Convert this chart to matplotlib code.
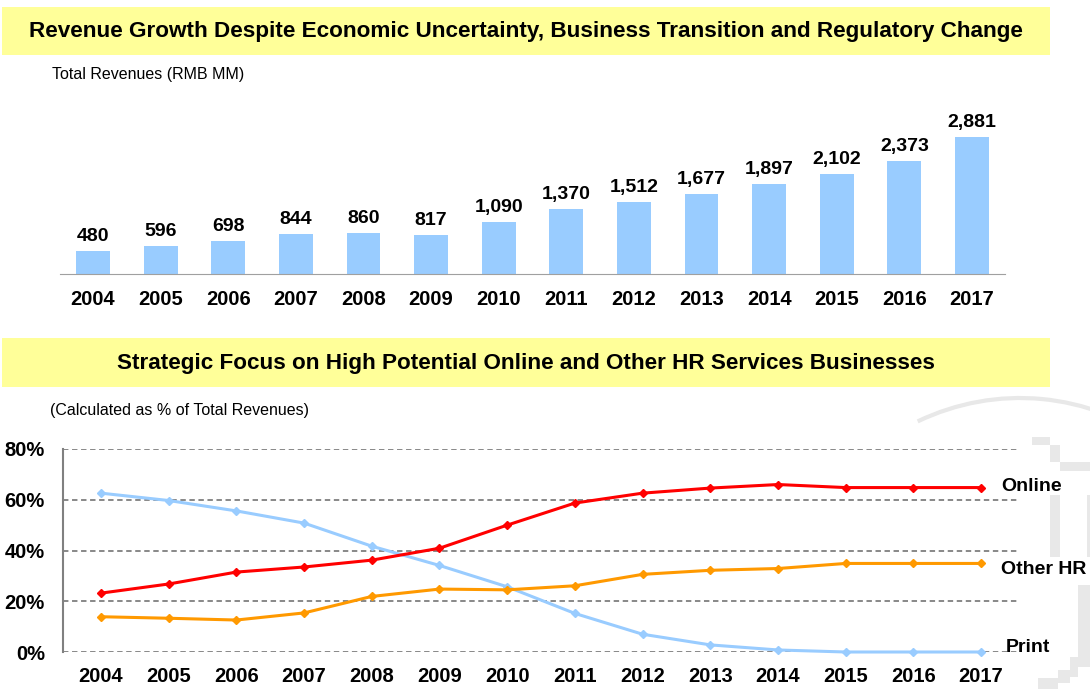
import numpy as np
import matplotlib
matplotlib.use('Agg')
import matplotlib.pyplot as plt
from matplotlib.patches import Rectangle, Arc

plt.rcParams['font.family'] = ['Liberation Sans', 'DejaVu Sans']

# ---------------- data ----------------
years = ['2004', '2005', '2006', '2007', '2008', '2009', '2010',
         '2011', '2012', '2013', '2014', '2015', '2016', '2017']
revenues = [480, 596, 698, 844, 860, 817, 1090, 1370, 1512, 1677, 1897, 2102, 2373, 2881]

online = [23.2, 26.8, 31.5, 33.5, 36.2, 40.9, 50.0, 58.7, 62.6, 64.6, 66.0, 64.8, 64.8, 64.8]
other_hr = [13.9, 13.3, 12.6, 15.4, 21.9, 24.8, 24.5, 26.1, 30.6, 32.2, 32.9, 34.9, 34.9, 34.9]
print_share = [62.6, 59.7, 55.6, 50.8, 41.7, 34.1, 25.7, 15.2, 7.0, 2.8, 0.8, 0.0, 0.0, 0.0]

W, H = 1090, 689
fig = plt.figure(figsize=(W / 100, H / 100), dpi=100)


def box(x0, y0, x1, y1):
    # pixel box (top-left origin) -> figure fraction rect
    return [x0 / W, 1 - y1 / H, (x1 - x0) / W, (y1 - y0) / H]


# faint watermark shapes on the right
bg = fig.add_axes([0, 0, 1, 1], zorder=-5)
bg.set_xlim(0, W)
bg.set_ylim(H, 0)
bg.axis('off')
wm = '#e8e8e8'
bg.add_patch(Arc((1020, 688), 520, 580, theta1=249, theta2=300, color=wm, lw=3))
for (x0, y0, x1, y1) in [(1032, 437, 1050, 445), (1050, 445, 1060, 462), (1060, 462, 1090, 471),
                         (1050, 495, 1060, 557), (1087, 495, 1090, 557),
                         (1078, 585, 1090, 667), (1070, 657, 1078, 677),
                         (1058, 670, 1070, 683), (1038, 678, 1058, 689)]:
    bg.add_patch(Rectangle((x0, y0), x1 - x0, y1 - y0, color=wm, lw=0))

# yellow banners
for (y0, y1, txt) in [(7, 55, 'Revenue Growth Despite Economic Uncertainty, Business Transition and Regulatory Change'),
                      (338, 387, 'Strategic Focus on High Potential Online and Other HR Services Businesses')]:
    bg.add_patch(Rectangle((2, y0), 1048, y1 - y0, color='#ffff99', lw=0))
    bg.text(526, (y0 + y1) / 2 + 1, txt, ha='center', va='center', fontsize=16.2, fontweight='bold')

bg.text(52, 75, 'Total Revenues (RMB MM)', ha='left', va='center', fontsize=11.5)
bg.text(50, 410, '(Calculated as % of Total Revenues)', ha='left', va='center', fontsize=11.5)

# ---------------- bar chart ----------------
ax1 = fig.add_axes(box(60, 100, 1005, 274))
x = np.arange(len(years))
ax1.bar(x, revenues, width=0.5, color='#99ccff', zorder=2)
for i, v in enumerate(revenues):
    ax1.text(i, v + 2881 * 0.042, f'{v:,}', ha='center', va='bottom',
             fontsize=14, fontweight='bold')
ax1.set_xlim(-0.488, 13.488)
ax1.set_ylim(0, 3659)
for s in ['top', 'right', 'left']:
    ax1.spines[s].set_visible(False)
ax1.spines['bottom'].set_color('#a0a0a0')
ax1.set_yticks([])
ax1.set_xticks(x)
ax1.set_xticklabels(years, fontsize=14.5, fontweight='bold')
ax1.tick_params(axis='x', length=0, pad=11.5)
ax1.patch.set_alpha(0)

# ---------------- line chart ----------------
ax2 = fig.add_axes(box(63, 449, 1017, 652))
ax2.set_xlim(-0.561, 13.53)
ax2.set_ylim(0, 80)
ax2.plot(x, print_share, color='#99ccff', lw=2.2, marker='D', ms=4, clip_on=False, zorder=3)
ax2.plot(x, other_hr, color='#ff9900', lw=2.2, marker='D', ms=4, clip_on=False, zorder=3)
ax2.plot(x, online, color='#ff0000', lw=2.2, marker='D', ms=4, clip_on=False, zorder=4)
ax2.set_yticks([0, 20, 40, 60, 80])
ax2.set_yticklabels(['0%', '20%', '40%', '60%', '80%'], fontsize=14.5, fontweight='bold')
ax2.yaxis.grid(True, color='#7f7f7f', linestyle=(0, (3, 2)), lw=1.3)
ax2.set_xticks(x)
ax2.set_xticklabels(years, fontsize=14.5, fontweight='bold')
ax2.tick_params(axis='x', length=0, pad=10.5)
ax2.tick_params(axis='y', length=0, pad=13)
for s in ['top', 'right', 'bottom']:
    ax2.spines[s].set_visible(False)
ax2.spines['left'].set_color('#808080')
ax2.spines['left'].set_linewidth(1.5)
ax2.patch.set_alpha(0)

ax2.text(13.29, online[-1] + 0.3, 'Online', ha='left', va='center', fontsize=14, fontweight='bold')
ax2.text(13.29, other_hr[-1] - 2.5, 'Other HR', ha='left', va='center', fontsize=14, fontweight='bold')
ax2.text(13.36, 1.6, 'Print', ha='left', va='center', fontsize=14, fontweight='bold')

fig.savefig('out.png', dpi=100)
